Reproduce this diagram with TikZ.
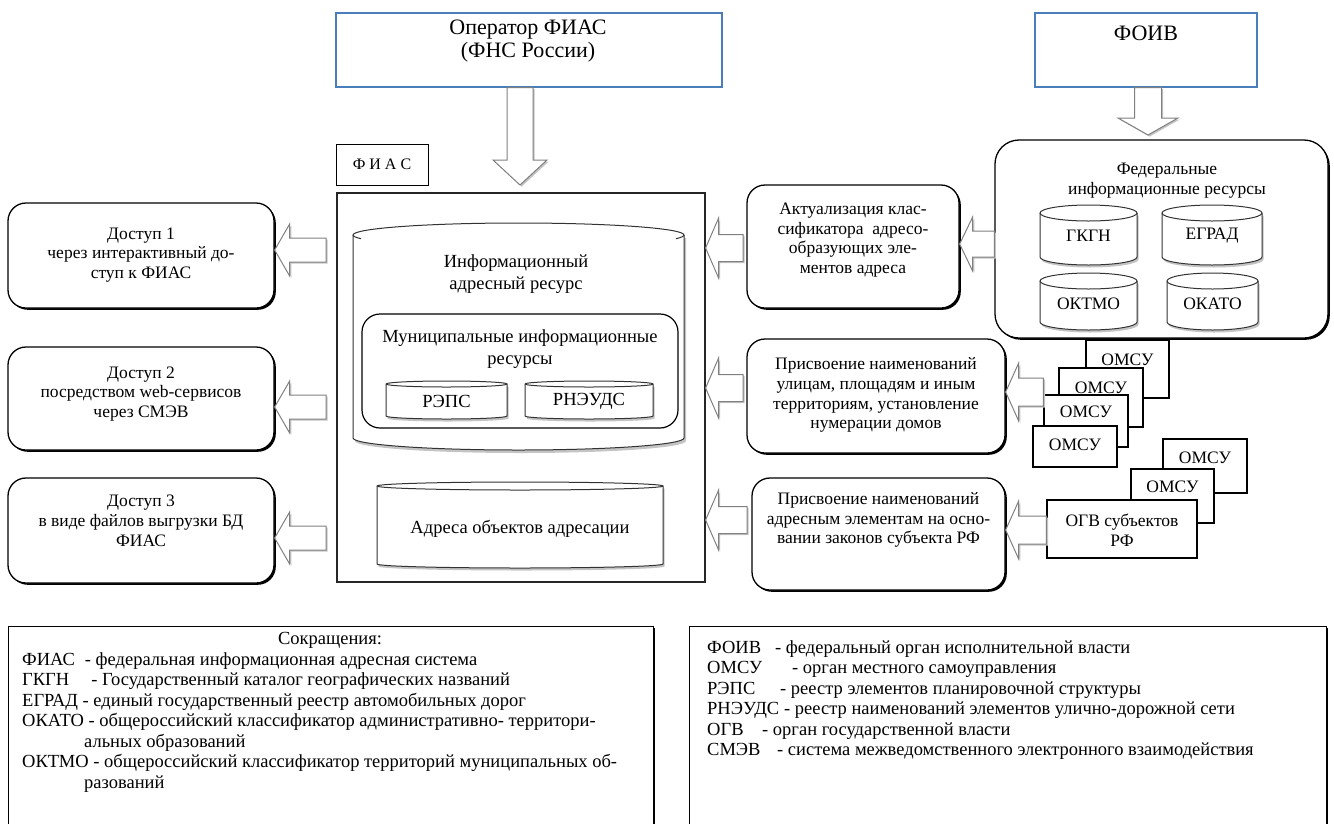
\documentclass[tikz,border=0pt]{standalone}
\usepackage{fontspec}
\setmainfont{Liberation Serif}
\usetikzlibrary{shadows,calc}
\definecolor{bluebd}{HTML}{4A7EBB}
\definecolor{argray}{HTML}{808080}
\definecolor{shgray}{HTML}{C4C4C4}
\tikzset{
  opbox/.style={draw=bluebd, line width=1.2pt, fill=white, inner sep=0pt},
  rbox/.style={draw=black, line width=1.3pt, rounded corners=18pt, fill=white, inner sep=0pt,
     drop shadow={shadow xshift=1.8pt, shadow yshift=-1.8pt, opacity=1, fill=black}},
  sqbox/.style={draw=black, line width=1.2pt, fill=white, inner sep=0pt},
  mainbox/.style={draw=black!85, line width=1.2pt, inner sep=0pt},
  txt/.style={align=center, inner sep=0pt, font=\fontsize{17.5}{19.8}\selectfont},
  bigtxt/.style={align=center, inner sep=0pt, font=\fontsize{22}{23.5}\selectfont},
  legtxt/.style={anchor=base west, inner sep=0pt, font=\fontsize{18.5}{20.5}\selectfont},
  arbody/.style={fill=white, draw=argray, line width=1pt, line join=miter},
  arshadow/.style={fill=shgray},
  cylst/.style={draw=black!80, line width=1pt, fill=white},
}
% left-pointing block arrow: tip, tail, head length, head half width, shaft half width
\newcommand\blockL[5]{%
 \begin{scope}[transform canvas={xshift=1.6pt,yshift=-1.6pt}]
 \path[arshadow] let \p1=#1, \p2=#2 in (\x1,\y1) -- (\x1+#3,\y1+#4) -- (\x1+#3,\y1+#5) -- (\x2,\y1+#5) -- (\x2,\y1-#5) -- (\x1+#3,\y1-#5) -- (\x1+#3,\y1-#4) -- cycle;
 \end{scope}
 \path[arbody] let \p1=#1, \p2=#2 in (\x1,\y1) -- (\x1+#3,\y1+#4) -- (\x1+#3,\y1+#5) -- (\x2,\y1+#5) -- (\x2,\y1-#5) -- (\x1+#3,\y1-#5) -- (\x1+#3,\y1-#4) -- cycle;
}
% down-pointing block arrow
\newcommand\blockD[5]{%
 \begin{scope}[transform canvas={xshift=1.6pt,yshift=-1.6pt}]
 \path[arshadow] let \p1=#1, \p2=#2 in (\x1,\y1) -- (\x1-#4,\y1+#3) -- (\x1-#5,\y1+#3) -- (\x1-#5,\y2) -- (\x1+#5,\y2) -- (\x1+#5,\y1+#3) -- (\x1+#4,\y1+#3) -- cycle;
 \end{scope}
 \path[arbody] let \p1=#1, \p2=#2 in (\x1,\y1) -- (\x1-#4,\y1+#3) -- (\x1-#5,\y1+#3) -- (\x1-#5,\y2) -- (\x1+#5,\y2) -- (\x1+#5,\y1+#3) -- (\x1+#4,\y1+#3) -- cycle;
}
% cylinder: x1 y1 x2 y2 ry (pixel coordinates, y downwards)
\newcommand\drawcyl[5]{%
 \pgfmathsetmacro\crx{(#3-#1)/2}%
 \begin{scope}[transform canvas={xshift=1.5pt,yshift=-2.5pt}]
  \fill[shgray] (#1,#2+#5) -- (#1,#4-#5) arc[start angle=180,end angle=360,x radius=\crx pt,y radius=#5 pt] -- (#3,#2+#5) -- cycle;
 \end{scope}
 \filldraw[cylst] (#1,#2+#5) -- (#1,#4-#5) arc[start angle=180,end angle=360,x radius=\crx pt,y radius=#5 pt] -- (#3,#2+#5) arc[start angle=0,end angle=180,x radius=\crx pt,y radius=#5 pt] -- cycle;
 \draw[cylst, fill=none] (#1,#2+#5) arc[start angle=180,end angle=360,x radius=\crx pt,y radius=#5 pt];
}
\begin{document}
\begin{tikzpicture}[x=1pt,y=-1pt]
\useasboundingbox (0,0) rectangle (1334,823);
\clip (0,0) rectangle (1334,823);

% top boxes
\node[opbox, minimum width=386pt, minimum height=74pt] (op) at (529,50) {};
\node[bigtxt] (opt) at (528,41) {Оператор ФИАС\\(ФНС России)};
\node[opbox, minimum width=222pt, minimum height=74pt] (foiv) at (1146,50) {};
\node[bigtxt] (foivt) at (1146,33) {ФОИВ};
\node[sqbox, line width=1pt, minimum width=92pt, minimum height=41pt, font=\fontsize{16}{18}\selectfont] (fiaslbl) at (382,164.5) {Ф И А С};

% main FIAS box
\node[mainbox, minimum width=368pt, minimum height=389pt] (main) at (521,387.5) {};

% big cylinder
\begin{scope}[transform canvas={xshift=2pt,yshift=-3pt}]
\fill[shgray] (353,235) -- (353,438) arc[start angle=180,end angle=360,x radius=165.5pt,y radius=12pt] -- (684,235) -- cycle;
\end{scope}
\filldraw[cylst] (353,235) -- (353,438) arc[start angle=180,end angle=360,x radius=165.5pt,y radius=12pt] -- (684,235) arc[start angle=0,end angle=180,x radius=165.5pt,y radius=12pt] -- cycle;
\draw[cylst, fill=none] (353,235) arc[start angle=180,end angle=198,x radius=165.5pt,y radius=12pt];
\draw[cylst, fill=none] (684,235) arc[start angle=360,end angle=342,x radius=165.5pt,y radius=12pt];
\node[txt, font=\fontsize{18.5}{21.5}\selectfont] (info) at (516,274) {Информационный\\адресный ресурс};

\node[draw, line width=1.2pt, rounded corners=18pt, minimum width=316pt, minimum height=114pt, inner sep=0pt, fill=white] (muni) at (520,371) {};
\node[txt, font=\fontsize{18.5}{21.5}\selectfont] (munit) at (520,349) {Муниципальные информационные\\ресурсы};
\drawcyl{386}{381}{507}{419}{3}
\node[txt, font=\fontsize{18.5}{21}\selectfont] (reps) at (446.5,401) {РЭПС};
\drawcyl{525}{381}{653}{419}{3}
\node[txt, font=\fontsize{18.5}{21}\selectfont] (rneuds) at (589,401) {РНЭУДС};

\drawcyl{377}{482}{663}{568}{4}
\node[txt, font=\fontsize{18.5}{21}\selectfont] (addr) at (520,529) {Адреса объектов адресации};

% access boxes
\node[rbox, minimum width=266pt, minimum height=105pt] (acc1) at (141,255.5) {};
\node[txt] (acc1t) at (141,255) {Доступ 1\\через интерактивный до-\\ступ к ФИАС};
\node[rbox, minimum width=266pt, minimum height=103pt] (acc2) at (141,398.5) {};
\node[txt] (acc2t) at (141,394) {Доступ 2\\посредством web-сервисов\\через СМЭВ};
\node[rbox, minimum width=266pt, minimum height=105pt] (acc3) at (141,530.5) {};
\node[txt] (acc3t) at (141,521) {Доступ 3\\в виде файлов выгрузки БД\\ФИАС};

% right process boxes
\node[rbox, minimum width=212pt, minimum height=123pt] (act) at (853,246.5) {};
\node[txt] (actt) at (853,240) {Актуализация клас-\\сификатора\ \ адресо-\\образующих эле-\\ментов адреса};
\node[rbox, minimum width=258pt, minimum height=114pt] (pr1) at (876,396) {};
\node[txt] (pr1t) at (876,395) {Присвоение наименований\\улицам, площадям и иным\\территориям, установление\\нумерации домов};
\node[rbox, minimum width=253pt, minimum height=112pt] (pr2) at (878.5,534) {};
\node[txt] (pr2t) at (878.5,520) {Присвоение наименований\\адресным элементам на осно-\\вании законов субъекта РФ};

% federal resources
\node[rbox, rounded corners=24pt, minimum width=333pt, minimum height=198pt] (fed) at (1161.5,239) {};
\node[txt] (fedt) at (1167,181) {Федеральные\\информационные ресурсы};
\drawcyl{1040}{205}{1137}{265}{8}
\node[txt] (gkgn) at (1088.5,236) {ГКГН};
\drawcyl{1162}{205}{1262}{265}{8}
\node[txt] (egrad) at (1212,236) {ЕГРАД};
\drawcyl{1040}{273}{1137}{330}{8}
\node[txt] (oktmo) at (1088.5,304) {ОКТМО};
\drawcyl{1167}{273}{1258}{330}{8}
\node[txt] (okato) at (1212.5,304) {ОКАТО};

% OMSU stacks
\node[sqbox, minimum width=83pt, minimum height=58pt] (oma) at (1127.5,369) {};
\node[txt] (omat) at (1127.5,360) {ОМСУ};
\node[sqbox, minimum width=84pt, minimum height=59pt] (omb) at (1101,397.5) {};
\node[txt] (ombt) at (1101,388) {ОМСУ};
\node[sqbox, minimum width=84pt, minimum height=52pt] (omc) at (1086,421) {};
\node[txt] (omct) at (1086,412) {ОМСУ};
\node[sqbox, minimum width=84pt, minimum height=41pt] (omd) at (1075,446.5) {};
\node[txt] (omdt) at (1075,445) {ОМСУ};

\node[sqbox, minimum width=84pt, minimum height=54pt] (ome) at (1205,466) {};
\node[txt] (omet) at (1205,458) {ОМСУ};
\node[sqbox, minimum width=83pt, minimum height=54pt] (omf) at (1172.5,496) {};
\node[txt] (omft) at (1172.5,487) {ОМСУ};
\node[sqbox, minimum width=150pt, minimum height=58pt] (ogv) at (1122,529) {};
\node[txt] (ogvt) at (1122,530) {ОГВ субъектов\\РФ};

% block arrows
\coordinate (d1tip) at (520,185);
\blockD{(d1tip)}{(op.south -| d1tip)}{25pt}{27pt}{13pt}
\coordinate (d2tip) at (1148,135);
\blockD{(d2tip)}{(foiv.south -| d2tip)}{17pt}{30pt}{13.5pt}

\coordinate (l1tail) at (326,250);
\coordinate (l2tail) at (326,407);
\coordinate (l3tail) at (326,538);
\blockL{(acc1.east |- l1tail)}{(l1tail)}{15pt}{26pt}{12pt}
\blockL{(acc2.east |- l2tail)}{(l2tail)}{15pt}{26pt}{12pt}
\blockL{(acc3.east |- l3tail)}{(l3tail)}{15pt}{26pt}{12pt}

\coordinate (r1tail) at (743,248);
\coordinate (r2tail) at (743,388);
\coordinate (r3tail) at (747,520);
\blockL{(main.east |- r1tail)}{(r1tail)}{13pt}{30pt}{13.5pt}
\blockL{(main.east |- r2tail)}{(r2tail)}{13pt}{30pt}{13.5pt}
\blockL{(main.east |- r3tail)}{(r3tail)}{13pt}{30pt}{13.5pt}

\coordinate (f1y) at (0,244);
\blockL{(act.east |- f1y)}{(fed.west |- f1y)}{13pt}{27pt}{13pt}
\coordinate (o1y) at (0,392);
\blockL{(pr1.east |- o1y)}{(omc.west |- o1y)}{13pt}{29pt}{14pt}
\coordinate (o2y) at (0,530);
\blockL{(pr2.east |- o2y)}{(ogv.west |- o2y)}{13pt}{29pt}{14pt}

% legends
\node[sqbox, anchor=north west, minimum width=645pt, minimum height=260pt, drop shadow={shadow xshift=1.5pt, shadow yshift=-1.5pt, opacity=1, fill=black}] (leg1) at (8,626) {};
\node[sqbox, anchor=north west, minimum width=637pt, minimum height=260pt, drop shadow={shadow xshift=1.5pt, shadow yshift=-1.5pt, opacity=1, fill=black}] (leg2) at (689,626) {};

\node[legtxt, anchor=base] (lgh) at (330,644) {Сокращения:};
\node[legtxt] (la1) at (22,665) {ФИАС\hspace{10pt}- федеральная информационная адресная система};
\node[legtxt] (la2) at (22,685.5) {ГКГН\hspace{22pt}- Государственный каталог географических названий};
\node[legtxt] (la3) at (22,706) {ЕГРАД - единый государственный реестр автомобильных дорог};
\node[legtxt] (la4) at (22,726.5) {ОКАТО - общероссийский классификатор административно- территори-};
\node[legtxt] (la4c) at (84,747) {альных образований};
\node[legtxt] (la5) at (22,767.5) {ОКТМО - общероссийский классификатор территорий муниципальных об-};
\node[legtxt] (la5c) at (84,788) {разований};

\node[legtxt] (ra1) at (707,653) {ФОИВ};
\node[legtxt] (rb1) at (775,653) {- федеральный орган исполнительной власти};
\node[legtxt] (ra2) at (707,673.5) {ОМСУ};
\node[legtxt] (rb2) at (792,673.5) {- орган местного самоуправления};
\node[legtxt] (ra3) at (707,694) {РЭПС};
\node[legtxt] (rb3) at (780,694) {- реестр элементов планировочной структуры};
\node[legtxt] (ra4) at (707,714.5) {РНЭУДС};
\node[legtxt] (rb4) at (784,714.5) {- реестр наименований элементов улично-дорожной сети};
\node[legtxt] (ra5) at (707,735) {ОГВ};
\node[legtxt] (rb5) at (762,735) {- орган государственной власти};
\node[legtxt] (ra6) at (707,755.5) {СМЭВ};
\node[legtxt] (rb6) at (777,755.5) {- система межведомственного электронного взаимодействия};
\end{tikzpicture}
\end{document}
